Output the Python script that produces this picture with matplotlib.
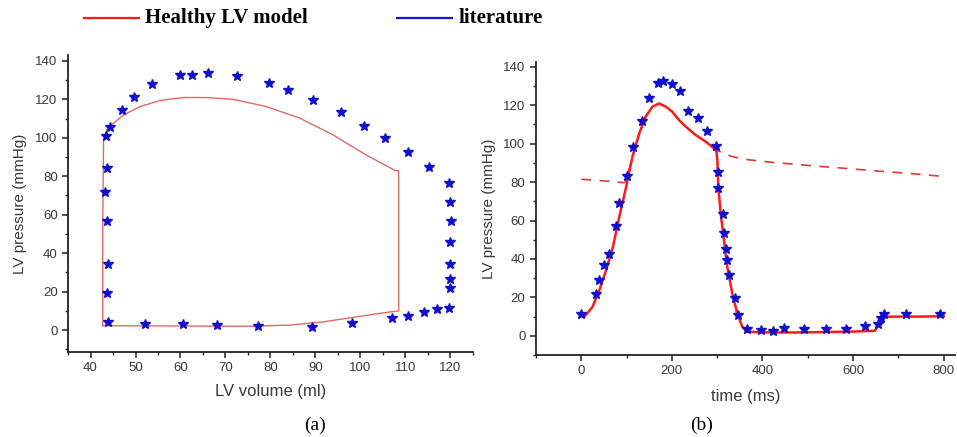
import numpy as np
import matplotlib.pyplot as plt
from matplotlib.ticker import MultipleLocator
from matplotlib.lines import Line2D

# ---- (a) PV loop ----
loop_vol = [42.7, 50, 62.3, 75, 84.4, 91.8, 99.2, 104, 108.5, 108.5, 107.8, 101.3, 93.9, 86.5, 79.1,
            71.7, 65.8, 60.6, 55.5, 51.0, 47.4, 45.1, 43.6, 42.9, 42.7, 42.7]
loop_p = [2.3, 2.2, 2.1, 2.0, 2.6, 4.3, 6.9, 8.6, 10.0, 82.8, 82.9, 91.0, 101.5, 110.2, 116.2,
          120.0, 120.9, 120.9, 119.4, 116.2, 111.9, 107.6, 104.1, 98.9, 50, 2.3]

lit_vol = [43.5, 44.3, 47.0, 49.7, 53.7, 60.0, 62.5, 66.1, 72.6, 79.6, 84.0, 89.5, 95.6, 100.9,
           105.4, 110.5, 115.2, 119.8, 120.0, 120.1, 120.0, 120.0, 120.0, 120.0, 119.6, 117.1,
           114.2, 110.5, 107.0, 98.2, 89.2, 77.2, 68.2, 60.6, 52.0, 43.8, 43.7, 43.8, 43.6, 43.3, 43.6]
lit_p = [101.1, 105.5, 114.5, 121.4, 127.9, 132.7, 132.7, 133.6, 131.9, 128.7, 124.6, 119.5, 113.5,
         106.0, 99.9, 92.5, 84.7, 76.5, 66.4, 56.7, 45.8, 34.4, 26.5, 21.9, 11.5, 10.8, 9.2, 7.1,
         6.2, 3.6, 1.7, 2.3, 2.6, 2.9, 3.3, 4.0, 19.1, 34.4, 56.9, 72.0, 84.5]

# ---- (b) pressure vs time ----
t_model = [0, 7, 25, 40, 55, 70, 84, 99, 113, 128, 142, 157, 172, 187, 201, 216, 231, 253, 275,
           298, 300.4, 302.6, 307.7, 315, 322.3, 333.3, 344.3, 355.3, 366.3, 400, 450, 500, 550,
           600, 648, 656, 667, 700, 750, 800]
p_model = [10.8, 9.9, 15.1, 23.8, 34.2, 46.3, 61.9, 77.5, 93.2, 105.3, 114.0, 119.2, 120.9, 119.2,
           116.6, 112.2, 108.8, 104.4, 101.0, 96.6, 91.4, 77.5, 63.7, 49.8, 35.9, 22.0, 11.6, 4.7,
           2.1, 1.8, 1.7, 1.8, 2.0, 2.2, 2.6, 5.6, 9.9, 10.0, 10.0, 10.2]

t_aorta = [0, 50, 95, 99, 113, 128, 142, 157, 172, 187, 201, 216, 231, 253, 275, 298, 330, 362.6,
           420, 509, 580, 655.7, 720, 791]
p_aorta = [81.5, 80.6, 79.7, 80.5, 93.2, 105.3, 114.0, 119.2, 120.9, 119.2, 116.6, 112.2, 108.8,
           104.4, 101.0, 96.6, 93.5, 91.8, 90.3, 88.5, 87.2, 85.7, 84.6, 83.1]

t_lit = [0, 33, 40.3, 51.3, 60.8, 76.9, 84.2, 100.4, 115, 133.3, 150.2, 168.5, 179.5, 199.3, 218.3,
         236.6, 258.6, 276.9, 298.2, 301.1, 302.6, 312.1, 315, 319.4, 322.3, 326.7, 339.2, 346.5,
         364.8, 397.8, 422.7, 448.4, 490.8, 540.7, 583.2, 626.4, 654.2, 661.5, 667.4, 715.8, 792]
p_lit = [11.6, 22, 29.3, 37.1, 42.7, 57.3, 69.2, 83.1, 98.2, 111.7, 123.7, 131.8, 132.5, 131.3,
         127.3, 116.8, 113.5, 106.5, 98.7, 85.2, 76.7, 63.5, 53.3, 45.1, 39.4, 31.4, 19.8, 10.6,
         3.5, 2.8, 2.4, 4.3, 3.8, 3.5, 3.5, 4.9, 6.1, 9.4, 11.1, 11.3, 11.3]

legend_labels = ['Healthy LV model', 'literature']

star_color = '#1010cc'
tick_color = '#3a3a3a'
sans = 'Liberation Sans'

fig = plt.figure(figsize=(9.57, 4.37), dpi=100)
ax1 = fig.add_axes([0.0711, 0.1945, 0.423, 0.680])
ax2 = fig.add_axes([0.560, 0.1876, 0.438, 0.671])

ax1.plot(loop_vol, loop_p, color='#e06868', lw=1.0)
ax1.plot(lit_vol, lit_p, ls='none', marker='*', ms=7, color=star_color)
ax1.set_xlim(35, 125)
ax1.set_ylim(-11.4, 143.1)
ax1.xaxis.set_major_locator(MultipleLocator(10))
ax1.xaxis.set_minor_locator(MultipleLocator(5))
ax1.set_xlabel('LV volume (ml)', fontsize=12, color=tick_color, labelpad=7, family=sans)

ax2.plot(t_aorta, p_aorta, color='#e03a3a', lw=1.2, ls=(0, (6, 5)))
ax2.plot(t_model, p_model, color='#ff1a1a', lw=1.8)
ax2.plot(t_lit, p_lit, ls='none', marker='*', ms=7, color=star_color)
ax2.set_xlim(-100, 825)
ax2.set_ylim(-10, 142.6)
ax2.xaxis.set_major_locator(MultipleLocator(200))
ax2.xaxis.set_minor_locator(MultipleLocator(100))
ax2.set_xlabel('time (ms)', fontsize=12, color=tick_color, labelpad=8, family=sans)

for ax, pad in ((ax1, 6), (ax2, 5)):
    ax.spines['top'].set_visible(False)
    ax.spines['right'].set_visible(False)
    for s in ('left', 'bottom'):
        ax.spines[s].set_linewidth(1.3)
        ax.spines[s].set_color('#222222')
    ax.yaxis.set_major_locator(MultipleLocator(20))
    ax.yaxis.set_minor_locator(MultipleLocator(10))
    ax.set_yticks(np.arange(0, 141, 20))
    ax.tick_params(which='major', direction='out', length=4, width=1.1, labelsize=9.5,
                   labelcolor=tick_color, color='#222222')
    ax.tick_params(which='minor', direction='out', length=2.5, width=1.0, color='#222222')
    ax.set_ylabel('LV pressure (mmHg)', fontsize=11, color=tick_color, labelpad=pad, family=sans)
    for lab in ax.get_xticklabels() + ax.get_yticklabels():
        lab.set_family(sans)

# legend drawn across the top of the figure
ly = 1 - 18 / 437
fig.add_artist(Line2D([84 / 957, 139 / 957], [ly, ly], color='#ff1a1a', lw=1.6,
                      transform=fig.transFigure))
fig.text(145 / 957, ly, legend_labels[0], fontsize=15, family='Liberation Serif',
         weight='bold', va='center', ha='left')
fig.add_artist(Line2D([397 / 957, 452 / 957], [ly, ly], color='#1414d2', lw=1.6,
                      transform=fig.transFigure))
fig.text(459 / 957, ly, legend_labels[1], fontsize=15, family='Liberation Serif',
         weight='bold', va='center', ha='left')

fig.text(0.329, 0.027, '(a)', fontsize=14, family='Liberation Serif', ha='center', va='center')
fig.text(0.733, 0.027, '(b)', fontsize=14, family='Liberation Serif', ha='center', va='center')

fig.savefig('out.png', dpi=100)
